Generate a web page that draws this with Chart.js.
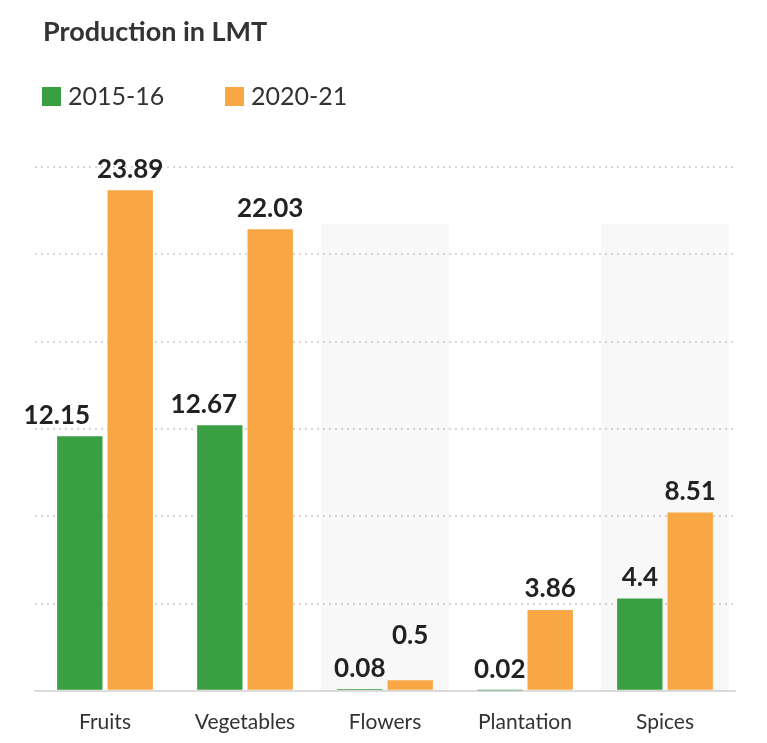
<!DOCTYPE html>
<html>
<head>
<meta charset="utf-8">
<script src="https://cdn.jsdelivr.net/npm/chart.js@4.4.0/dist/chart.umd.min.js"></script>
<style>
  html, body { margin: 0; padding: 0; background: #fff; }
  #wrap { position: relative; width: 767px; height: 743px; overflow: hidden; font-family: 'Lato', sans-serif; }
  #title { position: absolute; left: 43px; top: 14px; font-size: 27px; font-weight: 700; color: #333; }
  #legend { position: absolute; left: 42px; top: 80px; font-size: 25px; color: #333; }
  .item { position: absolute; top: 0; white-space: nowrap; }
  .box { display: inline-block; width: 19px; height: 19px; vertical-align: -1px; margin-right: 7px; }
  canvas { position: absolute; left: 0; top: 0; }
</style>
</head>
<body>
<div id="wrap">
  <canvas id="chart" width="767" height="764"></canvas>
  <div id="title">Production in LMT</div>
  <div id="legend"></div>
</div>
<script>
const categories = ['Fruits', 'Vegetables', 'Flowers', 'Plantation', 'Spices'];
const seriesNames = ['2015-16', '2020-21'];
const values2015 = [12.15, 12.67, 0.08, 0.02, 4.4];
const values2020 = [23.89, 22.03, 0.5, 3.86, 8.51];

const colors = ['#3a9e43', '#f8a744'];

// 범례 (HTML)
const legend = document.getElementById('legend');
seriesNames.forEach((name, i) => {
    const el = document.createElement('div');
    el.className = 'item';
    el.style.left = (i * 183) + 'px';
    el.innerHTML = '<span class="box" style="background:' + colors[i] + '"></span>' + name;
    legend.appendChild(el);
});

// 카테고리 배경 띠
const bandPlugin = {
    id: 'bands',
    beforeDatasetsDraw(chart) {
        const { ctx, chartArea, scales } = chart;
        const x = scales.x, y = scales.y;
        const half = (x.getPixelForValue(1) - x.getPixelForValue(0)) / 2;
        ctx.save();
        ctx.fillStyle = 'rgba(0,0,0,0.028)';
        [2, 4].forEach(i => {
            const c = x.getPixelForValue(i);
            const top = y.getPixelForValue(22.3);
            ctx.fillRect(c - half + 6, top, half * 2 - 12, chartArea.bottom - top);
        });
        ctx.restore();
    }
};

// 값 라벨 (겹치는 라벨은 살짝 비켜 놓음)
const valueLabels = {
    id: 'valueLabels',
    afterDatasetsDraw(chart) {
        const { ctx } = chart;
        const shiftX = [[-23, -16, 0, 0, 0], [0, 0, 0, 0, 0]];
        const shiftY = [[0, 0, 0, 0, 0], [0, 0, -24, 0, 0]];
        ctx.save();
        ctx.font = "700 26px 'Lato', sans-serif";
        ctx.fillStyle = '#222';
        ctx.textAlign = 'center';
        ctx.textBaseline = 'bottom';
        chart.data.datasets.forEach((ds, di) => {
            chart.getDatasetMeta(di).data.forEach((bar, i) => {
                ctx.fillText(String(ds.data[i]), bar.x + shiftX[di][i], bar.y - 8 + shiftY[di][i]);
            });
        });
        ctx.restore();
    }
};

new Chart(document.getElementById('chart'), {
    type: 'bar',
    data: {
        labels: categories,
        datasets: [
            { label: seriesNames[0], data: values2015, backgroundColor: colors[0] },
            { label: seriesNames[1], data: values2020, backgroundColor: colors[1] }
        ]
    },
    options: {
        responsive: false,
        animation: false,
        layout: { padding: { top: 167, left: 35, right: 32, bottom: 10 } },
        datasets: { bar: { categoryPercentage: 0.72, barPercentage: 0.9 } },
        plugins: {
            legend: { display: false },
            tooltip: { enabled: false }
        },
        scales: {
            x: {
                grid: { display: false, drawTicks: false },
                border: { display: true, color: '#dcdcdc', width: 2 },
                ticks: {
                    color: '#333',
                    padding: 19,
                    font: { family: "'Lato', sans-serif", size: 21 }
                }
            },
            y: {
                min: 0,
                max: 25,
                ticks: { display: false, count: 7 },
                border: { display: false, dash: [2, 4] },
                grid: {
                    drawTicks: false,
                    lineWidth: 2,
                    color: c => c.index === 0 ? 'transparent' : '#d6d6d6'
                }
            }
        }
    },
    plugins: [bandPlugin, valueLabels]
});
</script>
</body>
</html>
